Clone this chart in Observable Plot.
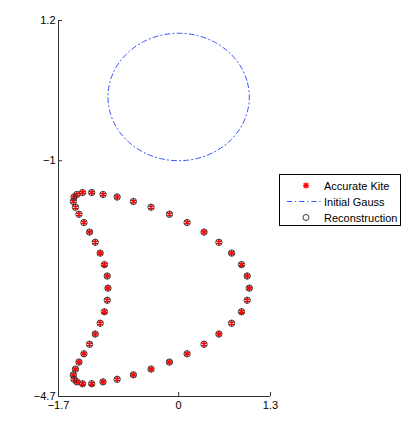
<!DOCTYPE html>
<html>
<head>
<meta charset="utf-8">
<script src="https://cdn.jsdelivr.net/npm/d3@7"></script>
<script src="https://cdn.jsdelivr.net/npm/@observablehq/plot@0.6"></script>
<style>
  html, body { margin: 0; padding: 0; background: #fff; }
  #wrap { position: relative; width: 415px; height: 423px; font-family: "Liberation Sans", Arial, sans-serif; }
  #legend { position: absolute; left: 279px; top: 174px; width: 122px; height: 52px; border: 1px solid #000; background: #fff; box-sizing: border-box; }
  .row { position: absolute; left: 0; height: 16px; width: 100%; font-size: 11px; color: #000; }
  .row span { position: absolute; left: 44px; top: 1px; line-height: 14px; white-space: nowrap; }
  .row svg { position: absolute; left: 0; top: 0; }
</style>
</head>
<body>
<div id="wrap"></div>
<script>
// Accurate kite sample points
const kiteX = [1.00, 0.97, 0.89, 0.75, 0.57, 0.36, 0.12, -0.13, -0.39, -0.64, -0.87, -1.07, -1.23,
  -1.36, -1.44, -1.48, -1.49, -1.46, -1.41, -1.34, -1.26, -1.18, -1.11, -1.05, -1.01, -1.00,
  -1.01, -1.05, -1.11, -1.18, -1.26, -1.34, -1.41, -1.46, -1.49, -1.48, -1.44, -1.36, -1.23,
  -1.07, -0.87, -0.64, -0.39, -0.13, 0.12, 0.36, 0.57, 0.75, 0.89, 0.97];
const kiteY = [-3.00, -2.81, -2.63, -2.45, -2.28, -2.12, -1.97, -1.84, -1.73, -1.64, -1.57, -1.53, -1.50,
  -1.50, -1.53, -1.57, -1.64, -1.73, -1.84, -1.97, -2.12, -2.28, -2.45, -2.63, -2.81, -3.00,
  -3.19, -3.37, -3.55, -3.72, -3.88, -4.03, -4.16, -4.27, -4.36, -4.43, -4.47, -4.50, -4.50,
  -4.47, -4.43, -4.36, -4.27, -4.16, -4.03, -3.88, -3.72, -3.55, -3.37, -3.19];
// Reconstruction points (coincide with the kite)
const reconX = [1.00, 0.97, 0.89, 0.75, 0.57, 0.36, 0.12, -0.13, -0.39, -0.64, -0.87, -1.07, -1.23,
  -1.36, -1.44, -1.48, -1.49, -1.46, -1.41, -1.34, -1.26, -1.18, -1.11, -1.05, -1.01, -1.00,
  -1.01, -1.05, -1.11, -1.18, -1.26, -1.34, -1.41, -1.46, -1.49, -1.48, -1.44, -1.36, -1.23,
  -1.07, -0.87, -0.64, -0.39, -0.13, 0.12, 0.36, 0.57, 0.75, 0.89, 0.97];
const reconY = [-3.00, -2.81, -2.63, -2.45, -2.28, -2.12, -1.97, -1.84, -1.73, -1.64, -1.57, -1.53, -1.50,
  -1.50, -1.53, -1.57, -1.64, -1.73, -1.84, -1.97, -2.12, -2.28, -2.45, -2.63, -2.81, -3.00,
  -3.19, -3.37, -3.55, -3.72, -3.88, -4.03, -4.16, -4.27, -4.36, -4.43, -4.47, -4.50, -4.50,
  -4.47, -4.43, -4.36, -4.27, -4.16, -4.03, -3.88, -3.72, -3.55, -3.37, -3.19];
// Initial Gauss (circle) outline
const gaussX = [1, 0.966, 0.866, 0.707, 0.5, 0.259, 0, -0.259, -0.5, -0.707, -0.866, -0.966,
  -1, -0.966, -0.866, -0.707, -0.5, -0.259, 0, 0.259, 0.5, 0.707, 0.866, 0.966];
const gaussY = [0, 0.259, 0.5, 0.707, 0.866, 0.966, 1, 0.966, 0.866, 0.707, 0.5, 0.259,
  0, -0.259, -0.5, -0.707, -0.866, -0.966, -1, -0.966, -0.866, -0.707, -0.5, -0.259];
// Axis ticks
const xTicks = [-1.7, 0, 1.3];
const yTicks = [-4.7, -1, 1.2];
const legendLabels = ["Accurate Kite", "Initial Gauss", "Reconstruction"];

const kite = kiteX.map((x, i) => ({x, y: kiteY[i]}));
const recon = reconX.map((x, i) => ({x, y: reconY[i]}));
const gauss = gaussX.map((x, i) => ({x, y: gaussY[i]}));

const W = 415, H = 423, mL = 58, mR = 145, mT = 20, mB = 27;
const innerW = W - mL - mR, innerH = H - mT - mB;
const fmt = d => d3.format("")(d).replace("-", "\u2212");

const chart = Plot.plot({
  width: W, height: H,
  marginLeft: mL, marginRight: mR, marginTop: mT, marginBottom: mB,
  style: {fontFamily: "'Liberation Sans', Arial, sans-serif", fontSize: "11px", color: "#000", background: "#fff"},
  x: {domain: [-1.7, 1.3], label: null},
  y: {domain: [-4.7, 1.2], label: null},
  marks: [
    Plot.line(gauss, {x: "x", y: "y", curve: "catmull-rom-closed", stroke: "#2040ff", strokeWidth: 0.9, strokeDasharray: "5,3,1.2,3"}),
    Plot.dot(kite, {x: "x", y: "y", symbol: "asterisk", r: 3, stroke: "#ff0000", strokeWidth: 1.6}),
    Plot.dot(recon, {x: "x", y: "y", symbol: "circle", r: 3.2, stroke: "#333", strokeWidth: 0.9, fill: "none"}),
    Plot.ruleX([-1.7], {stroke: "#333", strokeWidth: 1}),
    Plot.ruleY([-4.7], {stroke: "#333", strokeWidth: 1}),
    Plot.tickX(xTicks, {x: d => d, insetTop: innerH - 4, stroke: "#333"}),
    Plot.tickY(yTicks, {y: d => d, insetRight: innerW - 4, stroke: "#333"}),
    Plot.axisX(xTicks, {tickSize: 0, tickPadding: 5, tickFormat: fmt, fontSize: 11, label: null}),
    Plot.axisY(yTicks, {tickSize: 0, tickPadding: 3, tickFormat: fmt, fontSize: 11, label: null})
  ]
});

const wrap = document.getElementById("wrap");
wrap.appendChild(chart);

const legend = document.createElement("div");
legend.id = "legend";
const icons = [
  `<svg width="44" height="16"><g stroke="#ff0000" stroke-width="1.4"><line x1="26" y1="4.5" x2="26" y2="10.5"/><line x1="23" y1="7.5" x2="29" y2="7.5"/><line x1="23.8" y1="5.3" x2="28.2" y2="9.7"/><line x1="23.8" y1="9.7" x2="28.2" y2="5.3"/></g></svg>`,
  `<svg width="44" height="16"><line x1="7" y1="7.5" x2="42" y2="7.5" stroke="#2040ff" stroke-width="0.9" stroke-dasharray="5,3,1.2,3"/></svg>`,
  `<svg width="44" height="16"><circle cx="26" cy="7.5" r="3" fill="none" stroke="#222" stroke-width="0.9"/></svg>`
];
legendLabels.forEach((lab, i) => {
  const row = document.createElement("div");
  row.className = "row";
  row.style.top = (3 + i * 16) + "px";
  row.innerHTML = icons[i] + `<span>${lab}</span>`;
  legend.appendChild(row);
});
wrap.appendChild(legend);
</script>
</body>
</html>
